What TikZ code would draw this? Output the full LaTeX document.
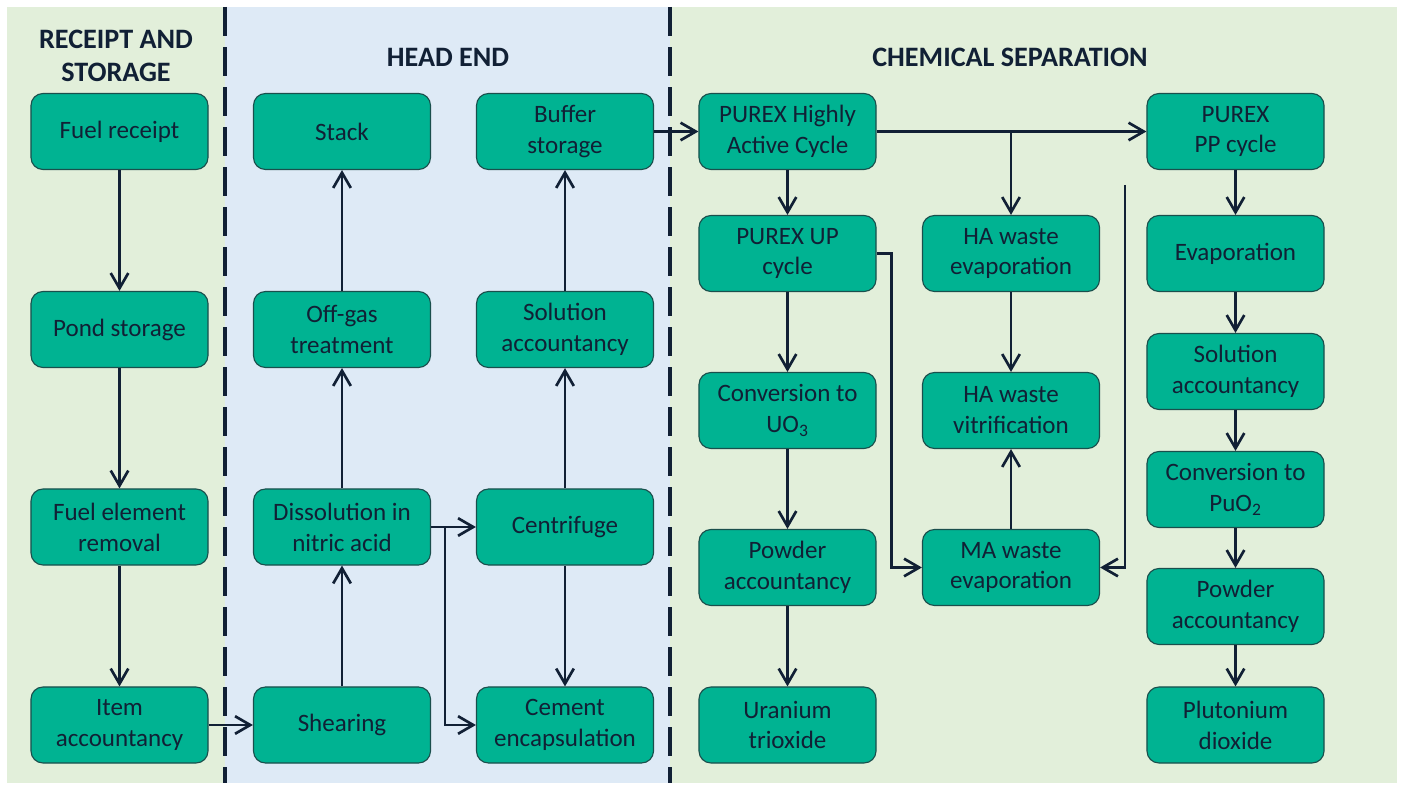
\documentclass[tikz,border=0pt]{standalone}
\usepackage{fontspec}
\setmainfont{Carlito}
\usetikzlibrary{arrows.meta}
\definecolor{boxgreen}{HTML}{00B392}
\definecolor{boxline}{HTML}{1A4F4C}
\definecolor{navy}{HTML}{112035}
\definecolor{bggreen}{HTML}{E2EFDA}
\definecolor{bgblue}{HTML}{DEEAF6}

\begin{document}
\begin{tikzpicture}[x=0.025cm, y=-0.025cm]
    % Styles for the boxes
    \tikzstyle{stage}=[rectangle, draw=boxline, fill=boxgreen, text=navy, align=center, rounded corners=0.3cm, minimum width=4.425cm, minimum height=1.9cm, line width=0.8pt, font=\fontsize{17.8}{22}\selectfont]
    \tikzstyle{heading}=[text=navy, align=center, font=\fontsize{20}{24}\selectfont\bfseries]
    \tikzstyle{arrow}=[-{Straight Barb[length=0.38cm, width=0.44cm]}, line width=1.9pt, navy]
    \tikzstyle{divider}=[navy, line width=2.6pt, dash pattern=on 0.72cm off 0.28cm]

    % Background panels
    \useasboundingbox (0,0) rectangle (1402,787);
    \fill[bggreen] (7,7) rectangle (1397,783);
    \fill[bgblue] (225,7) rectangle (670,783);
    \draw[divider] (225,7) -- (225,783);
    \draw[divider] (670,7) -- (670,783);

    % Headings
    \node[heading] (hrec) at (116,56) {RECEIPT AND\\STORAGE};
    \node[heading] (hhead) at (448,57) {HEAD END};
    \node[heading] (hchem) at (1010,57) {CHEMICAL SEPARATION};

    % Receipt and storage
    \node[stage] (receipt) at (119.5,131.5) {Fuel receipt};
    \node[stage] (pond) at (119.5,329.5) {Pond storage};
    \node[stage] (removal) at (119.5,527) {Fuel element\\removal};
    \node[stage] (item) at (119.5,725) {Item\\accountancy};

    % Head end
    \node[stage] (stack) at (342,131.5) {Stack};
    \node[stage] (offgas) at (342,329.5) {Off-gas\\treatment};
    \node[stage] (dissol) at (342,527) {Dissolution in\\nitric acid};
    \node[stage] (shear) at (342,725) {Shearing};
    \node[stage] (buffer) at (565,131.5) {Buffer\\storage};
    \node[stage] (solacc) at (565,329.5) {Solution\\accountancy};
    \node[stage] (centr) at (565,527) {Centrifuge};
    \node[stage] (cement) at (565,725) {Cement\\encapsulation};

    % Chemical separation
    \node[stage] (hac) at (787.5,131.5) {PUREX Highly\\Active Cycle};
    \node[stage] (upcyc) at (787.5,253.5) {PUREX UP\\cycle};
    \node[stage] (uo3) at (787.5,410.5) {Conversion to\\UO\textsubscript{3}};
    \node[stage] (powu) at (787.5,567.5) {Powder\\accountancy};
    \node[stage] (uran) at (787.5,725) {Uranium\\trioxide};
    \node[stage] (haevap) at (1011,253.5) {HA waste\\evaporation};
    \node[stage] (havit) at (1011,410.5) {HA waste\\vitrification};
    \node[stage] (maevap) at (1011,567.5) {MA waste\\evaporation};
    \node[stage] (ppcyc) at (1235.5,131.5) {PUREX\\PP cycle};
    \node[stage] (evap) at (1235.5,253.5) {Evaporation};
    \node[stage] (solpu) at (1235.5,371.5) {Solution\\accountancy};
    \node[stage] (puo2) at (1235.5,489.5) {Conversion to\\PuO\textsubscript{2}};
    \node[stage] (powpu) at (1235.5,606.5) {Powder\\accountancy};
    \node[stage] (pluto) at (1235.5,725) {Plutonium\\dioxide};
    \coordinate (feed) at (1125,185);

    % Arrows, receipt and storage
    \draw[arrow] (receipt) -- (pond);
    \draw[arrow] (pond) -- (removal);
    \draw[arrow] (removal) -- (item);
    \draw[arrow] (item) -- (shear);

    % Arrows, head end
    \draw[arrow] (shear) -- (dissol);
    \draw[arrow] (dissol) -- (offgas);
    \draw[arrow] (offgas) -- (stack);
    \draw[arrow] (dissol) -- (centr);
    \draw[arrow] ([xshift=0.35cm]dissol.east) |- (cement.west);
    \draw[arrow] (centr) -- (cement);
    \draw[arrow] (centr) -- (solacc);
    \draw[arrow] (solacc) -- (buffer);
    \draw[arrow] (buffer) -- (hac);

    % Arrows, chemical separation
    \draw[arrow] (hac) -- (ppcyc);
    \draw[arrow] (haevap.north |- hac.east) -- (haevap.north);
    \draw[arrow] (hac) -- (upcyc);
    \draw[arrow] (upcyc) -- (uo3);
    \draw[arrow] (uo3) -- (powu);
    \draw[arrow] (powu) -- (uran);
    \draw[arrow] (upcyc.east) -- ++(15,0) |- (maevap.west);
    \draw[arrow] (haevap) -- (havit);
    \draw[arrow] (maevap) -- (havit);
    \draw[arrow] (feed) |- (maevap.east);
    \draw[arrow] (ppcyc) -- (evap);
    \draw[arrow] (evap) -- (solpu);
    \draw[arrow] (solpu) -- (puo2);
    \draw[arrow] (puo2) -- (powpu);
    \draw[arrow] (powpu) -- (pluto);
\end{tikzpicture}
\end{document}
